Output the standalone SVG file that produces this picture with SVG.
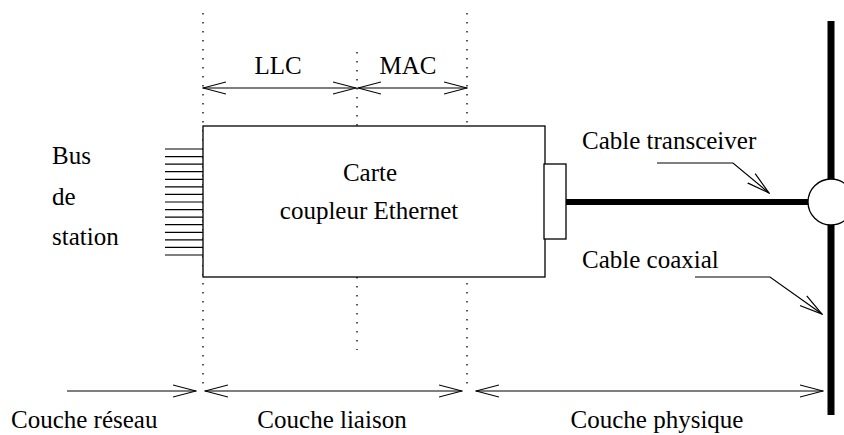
<svg xmlns="http://www.w3.org/2000/svg" width="844" height="435" viewBox="0 0 844 435">
<style>
text{font-family:"Liberation Serif","Times New Roman",serif;font-size:25px;fill:#000}
.ln{stroke:#000;stroke-width:1.2;fill:none}
.dot{stroke:#000;stroke-width:1.3;stroke-dasharray:1.5 7.5;fill:none}
.arr{stroke:#000;stroke-width:1.2;fill:none;marker-end:url(#ah)}
.darr{stroke:#000;stroke-width:1.2;fill:none;marker-end:url(#ah);marker-start:url(#ah)}
</style>
<defs>
<marker id="ah" viewBox="0 0 24 14" refX="23" refY="7" markerWidth="24" markerHeight="14" markerUnits="userSpaceOnUse" orient="auto-start-reverse">
<path d="M0,1 L23,7 L0,13" fill="none" stroke="#000" stroke-width="1.2"/>
</marker>
</defs>
<rect width="844" height="435" fill="#fff"/>
<g id="guides">
<line class="dot" x1="203" y1="13" x2="203" y2="386"/>
<line class="dot" x1="357" y1="52" x2="357" y2="350"/>
<line class="dot" x1="467" y1="13" x2="467" y2="386"/>
</g>
<g id="carte">
<rect x="203" y="126" width="342" height="151" fill="#fff" stroke="#000" stroke-width="1.3"/>
<text x="370" y="181" text-anchor="middle">Carte</text>
<text x="369" y="219" text-anchor="middle">coupleur Ethernet</text>
</g>
<g id="bus">
<g class="ln">
<line x1="165" y1="149" x2="203" y2="149"/>
<line x1="165" y1="156.6" x2="203" y2="156.6"/>
<line x1="165" y1="164.1" x2="203" y2="164.1"/>
<line x1="165" y1="171.7" x2="203" y2="171.7"/>
<line x1="165" y1="179.3" x2="203" y2="179.3"/>
<line x1="165" y1="186.9" x2="203" y2="186.9"/>
<line x1="165" y1="194.4" x2="203" y2="194.4"/>
<line x1="165" y1="202" x2="203" y2="202"/>
<line x1="165" y1="209.6" x2="203" y2="209.6"/>
<line x1="165" y1="217.1" x2="203" y2="217.1"/>
<line x1="165" y1="224.7" x2="203" y2="224.7"/>
<line x1="165" y1="232.3" x2="203" y2="232.3"/>
<line x1="165" y1="239.9" x2="203" y2="239.9"/>
<line x1="165" y1="247.4" x2="203" y2="247.4"/>
<line x1="165" y1="255" x2="203" y2="255"/>
</g>
<text x="52" y="164">Bus</text>
<text x="52" y="205">de</text>
<text x="52" y="245">station</text>
</g>
<g id="connecteur">
<rect x="544" y="164" width="22" height="75" fill="#fff" stroke="#000" stroke-width="1.3"/>
</g>
<g id="coaxial">
<line x1="831" y1="21" x2="831" y2="415" stroke="#000" stroke-width="7"/>
</g>
<g id="cable-transceiver">
<line x1="566" y1="202" x2="810" y2="202" stroke="#000" stroke-width="6"/>
</g>
<g id="transceiver">
<circle cx="831" cy="202" r="23" fill="#fff" stroke="#000" stroke-width="1.3"/>
</g>
<g id="connectors">
<line class="darr" x1="203" y1="88" x2="356" y2="88"/>
<line class="darr" x1="358" y1="88" x2="467" y2="88"/>
<line class="arr" x1="67" y1="391" x2="196" y2="391"/>
<line class="darr" x1="205" y1="391" x2="462" y2="391"/>
<line class="darr" x1="476" y1="391" x2="823" y2="391"/>
<polyline class="arr" points="657,163 733,163 769,193"/>
<polyline class="arr" points="695,277 770,277 822,314"/>
</g>
<g id="labels">
<text x="278" y="74" text-anchor="middle">LLC</text>
<text x="408" y="74" text-anchor="middle">MAC</text>
<text x="582" y="149">Cable transceiver</text>
<text x="582" y="268">Cable coaxial</text>
<text x="11" y="428">Couche réseau</text>
<text x="332" y="428" text-anchor="middle">Couche liaison</text>
<text x="657" y="428" text-anchor="middle">Couche physique</text>
</g>
</svg>
